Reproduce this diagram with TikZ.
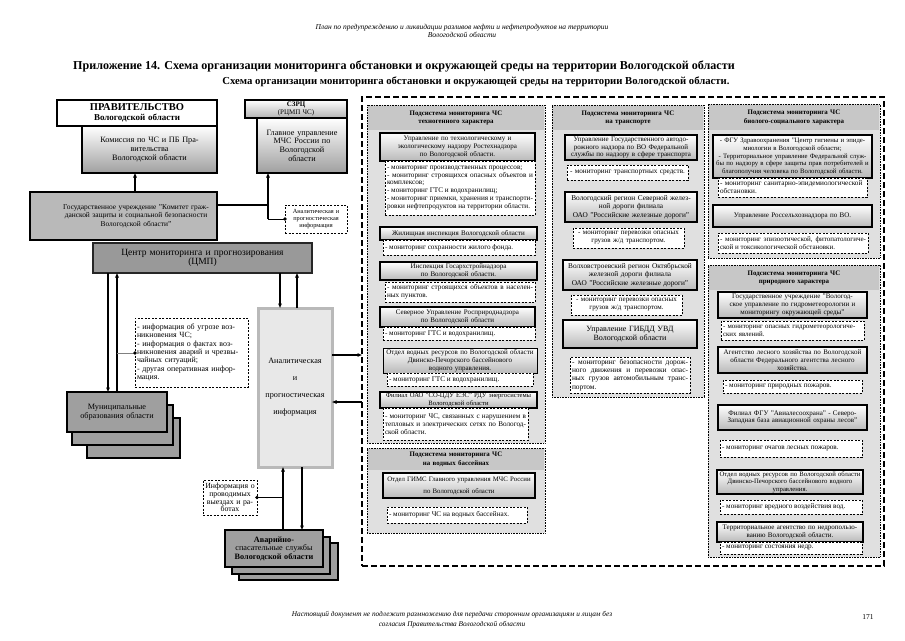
\documentclass[tikz,border=0pt]{standalone}
\usepackage{fontspec}
\setmainfont{Liberation Serif}
\usetikzlibrary{arrows.meta,calc}
\newcommand\fsB{\fontsize{7}{7.8}\selectfont}
\newcommand\fsLi{\fontsize{7.2}{7.9}\selectfont}
\newcommand\fsT{\fontsize{6.9}{8.4}\selectfont}
\newcommand\fsL{\fontsize{8.2}{8.6}\selectfont}
\newcommand\bxnode[7]{%
 \pgfmathsetmacro\bxw{#4-#2}%
 \pgfmathsetmacro\bxh{#5-#3}%
 \pgfmathsetmacro\bxcx{(#2+#4)/2}%
 \pgfmathsetmacro\bxcy{(#3+#5)/2}%
 \pgfmathsetmacro\bxtw{#4-#2-4}%
 \node[#6,minimum width=\bxw pt,minimum height=\bxh pt,text width=\bxtw pt] (#1) at (\bxcx,\bxcy) {#7};}
\tikzset{
 allbox/.style={inner xsep=2pt,inner ysep=1pt,outer sep=0pt},
 orgbox/.style={allbox,draw,line width=1.4pt,top color=white,bottom color=gray!55,align=center,font=\fsB},
 thinorg/.style={allbox,draw,line width=0.6pt,top color=white,bottom color=gray!55,align=center,font=\fsB},
 listbox/.style={allbox,draw,line width=0.5pt,dash pattern=on 2pt off 1.5pt,fill=white,align=justify,font=\fsLi},
 listc/.style={listbox,align=center},
 subframe/.style={allbox,draw,line width=0.6pt,densely dotted,fill=gray!24},
 band/.style={allbox,fill=gray!44,align=center,font=\fsT\bfseries},
 bigframe/.style={allbox,draw,line width=1.4pt,dash pattern=on 6pt off 3pt},
 leftbox/.style={allbox,draw,line width=1.4pt,align=center,font=\fsL},
 stackbox/.style={allbox,draw,line width=1.6pt,top color=gray!75,middle color=white,bottom color=gray!75,align=center,font=\fsL},
 dashinfo/.style={allbox,draw,line width=0.5pt,dash pattern=on 2pt off 1.5pt,fill=white,font=\fsL},
 arr/.style={line width=1.1pt,-{Triangle[length=4.5pt,width=3.4pt]}},
 ln/.style={line width=1.1pt},
 dot/.style={circle,fill,inner sep=0pt,minimum size=3.6pt},
}
\begin{document}
\begin{tikzpicture}[x=1pt,y=-1pt]
\useasboundingbox (0,0) rectangle (905,640);
\fill[white] (0,0) rectangle (905,640);

% header, titles, footer
\node[font=\fontsize{7.5}{8}\selectfont\itshape,align=center] (hdr) at (462,31) {План по предупреждению и ликвидации разливов нефти и нефтепродуктов на территории\\Вологодской области};
\node[font=\fontsize{12.1}{13}\selectfont\bfseries] (ttl1) at (404,66) {Приложение 14. Схема организации мониторинга обстановки и окружающей среды на территории Вологодской области};
\node[font=\fontsize{10.7}{12}\selectfont\bfseries] (ttl2) at (476,82) {Схема организации мониторинга обстановки и окружающей среды на территории Вологодской области.};
\node[font=\fontsize{7.3}{10}\selectfont\itshape,align=center] (ftr) at (452,620) {Настоящий документ не подлежит размножению для передачи сторонним организациям и лицам без\\согласия Правительства Вологодской области};
\node[font=\fontsize{7.5}{9}\selectfont] (pg) at (868,617) {171};

% ---------- left part ----------
\bxnode{gov}{57}{100}{217}{126}{leftbox,fill=white}{{\fontsize{10.5}{12}\selectfont\bfseries ПРАВИТЕЛЬСТВО}\\[1pt]{\fontsize{9}{10}\selectfont\bfseries Вологодской области}}
\bxnode{kom}{82}{126}{217}{173}{leftbox,top color=white,bottom color=gray!75}{Комиссия по ЧС и ПБ Пра-\\вительства\\Вологодской области}
\bxnode{szrc}{245}{100}{347}{118}{leftbox,top color=white,bottom color=gray!60,font=\fontsize{7}{7.6}\selectfont}{\textbf{СЗРЦ}\\(РЦМП ЧС)}
\bxnode{mchs}{257}{118}{347}{173}{leftbox,top color=white,bottom color=gray!75}{Главное управление\\МЧС России по\\Вологодской\\области}
\bxnode{gz}{30}{192}{217}{240}{leftbox,align=right,top color=gray!55,middle color=gray!12,bottom color=gray!55,font=\fontsize{7.4}{8.6}\selectfont}{\parbox{158pt}{\centering Государственное учреждение "Комитет граж-\\данской защиты и социальной безопасности\\Вологодской области"}}
\bxnode{ai}{285}{205}{347}{233}{dashinfo,align=center,font=\fontsize{6.3}{7.4}\selectfont}{Аналитическая и\\прогностическая\\информация}
\bxnode{cmp}{93}{243}{312}{273}{leftbox,draw=gray!30!black,line width=1.5pt,top color=gray!80,middle color=gray!35,bottom color=gray!80,font=\fontsize{9.5}{9.5}\selectfont}{Центр мониторинга и прогнозирования\\(ЦМП)}
\bxnode{info1}{135}{318}{248}{387}{dashinfo,align=left,font=\fontsize{7.9}{8.3}\selectfont}{- информация об угрозе воз-\\никновения ЧС;\\- информация о фактах воз-\\никновения аварий и чрезвы-\\чайных ситуаций;\\- другая оперативная инфор-\\мация.}
\bxnode{ana}{258}{308}{332}{467}{allbox,draw=gray!55,line width=3pt,fill=gray!18,align=center,font=\fontsize{8.2}{8.5}\selectfont}{Аналитическая\\[8.5pt]и\\[8.5pt]прогностическая\\[8.5pt]информация}
\bxnode{mun3}{87}{418}{180}{458}{stackbox}{}
\bxnode{mun2}{72}{405}{173}{445}{stackbox}{}
\bxnode{mun1}{67}{392}{167}{432}{stackbox}{Муниципальные\\образования области}
\bxnode{info2}{203}{480}{257}{515}{dashinfo,align=center,font=\fontsize{7.8}{7.8}\selectfont}{Информация о\\проводимых\\выездах и ра-\\ботах}
\bxnode{av3}{239}{543}{338}{580}{stackbox}{}
\bxnode{av2}{232}{537}{330}{574}{stackbox}{}
\bxnode{av1}{225}{530}{323}{567}{stackbox}{\textbf{Аварийно-}\\спасательные службы\\\textbf{Вологодской области}}

% ---------- big frame and columns ----------
\bxnode{frame}{362}{97}{884}{566}{bigframe}{}

\bxnode{f1}{367}{105}{545}{443}{subframe}{}
\bxnode{t1}{368}{106}{544}{130}{band}{Подсистема мониторинга ЧС\\техногенного характера}
\bxnode{c1b1}{380}{133}{535}{161}{orgbox}{Управление по технологическому и\\экологическому надзору Ростехнадзора\\по Вологодской области.}
\bxnode{c1l1}{385}{161}{535}{215}{listbox}{- мониторинг производственных процессов;\\- мониторинг строящихся опасных объектов и\linebreak комплексов;\\- мониторинг ГТС и водохранилищ;\\- мониторинг приемки, хранения и транспорти-\linebreak ровки нефтепродуктов на территории области.}
\bxnode{c1b2}{380}{227}{537}{240}{orgbox}{Жилищная инспекция Вологодской области}
\bxnode{c1l2}{383}{240}{535}{255}{listbox}{- мониторинг сохранности жилого фонда.}
\bxnode{c1b3}{380}{262}{537}{280}{orgbox}{Инспекция Госархстройнадзора\\по Вологодской области.}
\bxnode{c1l3}{385}{282}{535}{302}{listbox}{- мониторинг строящихся объектов в населен-\linebreak ных пунктов.}
\bxnode{c1b4}{380}{307}{535}{327}{orgbox}{Северное Управление Росприроднадзора\\по Вологодской области}
\bxnode{c1l4}{383}{327}{535}{340}{listbox}{- мониторинг ГТС и водохранилищ.}
\bxnode{c1b5}{383}{348}{537}{373}{thinorg}{Отдел водных ресурсов по Вологодской области\\Двинско-Печорского бассейнового\\водного управления.}
\bxnode{c1l5}{387}{373}{533}{386}{listbox}{- мониторинг ГТС и водохранилищ.}
\bxnode{c1b6}{380}{392}{537}{408}{orgbox,font=\fontsize{6.6}{7.8}\selectfont}{Филиал ОАО "СО-ЦДУ ЕЭС" РДУ энергосистемы\\Вологодской области}
\bxnode{c1l6}{383}{408}{528}{440}{listbox}{- мониторинг ЧС, связанных с нарушением в\linebreak тепловых и электрических сетях по Вологод-\linebreak ской области.}

\bxnode{f2}{367}{448}{545}{533}{subframe}{}
\bxnode{t2}{368}{449}{544}{470}{band}{Подсистема мониторинга ЧС\\на водных бассейнах}
\bxnode{c1b7}{383}{473}{535}{498}{orgbox,font=\fontsize{6.8}{7.8}\selectfont}{Отдел ГИМС Главного управления МЧС России\\[4pt]по Вологодской области}
\bxnode{c1l7}{387}{507}{527}{523}{listbox}{- мониторинг ЧС на водных бассейнах.}

\bxnode{f3}{552}{105}{704}{397}{subframe}{}
\bxnode{t3}{553}{106}{703}{130}{band}{Подсистема мониторинга ЧС\\на транспорте}
\bxnode{c2b1}{565}{135}{697}{160}{orgbox,font=\fontsize{7}{7.8}\selectfont}{Управление Государственного автодо-\\рожного надзора по ВО Федеральной\\службы по надзору в сфере транспорта}
\bxnode{c2l1}{567}{165}{688}{180}{listc}{- мониторинг транспортных средств.}
\bxnode{c2b2}{565}{192}{697}{222}{orgbox,font=\fontsize{7.3}{8.6}\selectfont}{Вологодский регион Северной желез-\\ной дороги филиала\\ОАО "Российские железные дороги"}
\bxnode{c2l2}{573}{228}{684}{248}{listc,font=\fontsize{7}{7.9}\selectfont}{- мониторинг перевозки опасных\\грузов ж/д транспортом.}
\bxnode{c2b3}{563}{260}{697}{290}{orgbox,font=\fontsize{7.3}{8.4}\selectfont}{Волховстроевский регион Октябрьской\\железной дороги филиала\\ОАО "Российские железные дороги"}
\bxnode{c2l3}{571}{295}{682}{315}{listc,font=\fontsize{7}{7.9}\selectfont}{- мониторинг перевозки опасных\\грузов ж/д транспортом.}
\bxnode{c2b4}{563}{320}{697}{348}{orgbox,font=\fontsize{8}{9.5}\selectfont}{Управление ГИБДД УВД\\Вологодской области}
\bxnode{c2l4}{570}{357}{690}{393}{listbox,font=\fontsize{7.4}{8.2}\selectfont}{- мониторинг безопасности дорож-\linebreak ного движения и перевозки опас-\linebreak ных грузов автомобильным транс-\linebreak портом.}

\bxnode{f4}{708}{104}{880}{258}{subframe}{}
\bxnode{t4}{709}{105}{879}{130}{band}{Подсистема мониторинга ЧС\\биолого-социального характера}
\bxnode{c3b1}{713}{135}{872}{178}{orgbox,font=\fontsize{6.7}{7.8}\selectfont}{- ФГУ Здравоохранения "Центр гигиены и эпиде-\\миологии в Вологодской области;\\- Территориальное управление Федеральной служ-\\бы по надзору в сфере защиты прав потребителей и\\благополучия человека по Вологодской области.}
\bxnode{c3l1}{718}{178}{867}{197}{listbox,align=left}{- мониторинг санитарно-эпидемиологической\\обстановки.}
\bxnode{c3b2}{713}{205}{872}{227}{orgbox}{Управление Россельхознадзора по ВО.}
\bxnode{c3l2}{718}{233}{868}{253}{listbox,font=\fontsize{7}{7.9}\selectfont}{- мониторинг эпизоотической, фитопатологиче-\linebreak ской и токсикологической обстановки.}

\bxnode{f5}{708}{265}{880}{557}{subframe}{}
\bxnode{t5}{709}{266}{879}{290}{band}{Подсистема мониторинга ЧС\\природного характера}
\bxnode{c3b3}{718}{292}{867}{318}{orgbox}{Государственное учреждение "Вологод-\\ское управление по гидрометеорологии и\\мониторингу окружающей среды"}
\bxnode{c3l3}{721}{321}{864}{340}{listbox,align=left,font=\fontsize{6.9}{7.9}\selectfont}{- мониторинг опасных гидрометеорологиче-\\ских явлений.}
\bxnode{c3b4}{718}{347}{867}{373}{orgbox}{Агентство лесного хозяйства по Вологодской\\области Федерального агентства лесного\\хозяйства.}
\bxnode{c3l4}{723}{380}{862}{393}{listbox}{- мониторинг природных пожаров.}
\bxnode{c3b5}{718}{405}{867}{430}{orgbox}{Филиал ФГУ "Авиалесоохрана" - Северо-\\Западная база авиационной охраны лесов"}
\bxnode{c3l5}{720}{440}{862}{457}{listbox}{- мониторинг очагов лесных пожаров.}
\bxnode{c3b6}{717}{470}{863}{494}{orgbox,font=\fontsize{6.7}{7.6}\selectfont}{Отдел водных ресурсов по Вологодской области\\Двинско-Печорского бассейнового водного\\управления.}
\bxnode{c3l6}{720}{500}{862}{514}{listbox}{- мониторинг вредного воздействия вод.}
\bxnode{c3b7}{717}{522}{863}{542}{orgbox}{Территориальное агентство по недропользо-\\ванию Вологодской области.}
\bxnode{c3l7}{720}{542}{862}{554}{listbox}{- мониторинг состояния недр.}

% ---------- connectors ----------
\coordinate (xa) at (135,0);
\coordinate (ja) at (268,205);
\coordinate (jb) at (268,219);
\coordinate (xm1) at (108,0);
\coordinate (xm2) at (117,0);
\coordinate (yi) at (0,353);
\coordinate (xc1) at (280,0);
\coordinate (xc2) at (297,0);
\coordinate (yo) at (0,355);
\coordinate (yin) at (0,402);
\coordinate (xv1) at (283,0);
\coordinate (xv2) at (302,0);

\draw[arr] (gz.north -| xa) -- (kom.south -| xa);
\draw[ln] (gz.east |- ja) -- (ja);
\draw[arr] (jb) -- (mchs.south -| ja);
\draw[line width=0.8pt] (jb) -- (ai.west |- jb) node[dot] {};
\draw[arr] (cmp.south -| xm1) -- (mun1.north -| xm1);
\draw[arr] (mun1.north -| xm2) -- (cmp.south -| xm2);
\draw[line width=0.8pt,gray] (xm2 |- yi) -- (info1.west |- yi) node[dot,black] {};
\draw[arr] (cmp.south -| xc1) -- (ana.north -| xc1);
\draw[arr] (ana.north -| xc2) -- (cmp.south -| xc2);
\draw[arr] (ana.east |- yo) -- (frame.west |- yo);
\draw[arr] (frame.west |- yin) -- (ana.east |- yin);
\draw[arr] (av1.north -| xv1) -- (ana.south -| xv1);
\draw[arr] (ana.south -| xv2) -- (av1.north -| xv2);
\draw[line width=0.8pt] (info2.east) node[dot] {} -- (info2.east -| xv1);
\end{tikzpicture}
\end{document}
